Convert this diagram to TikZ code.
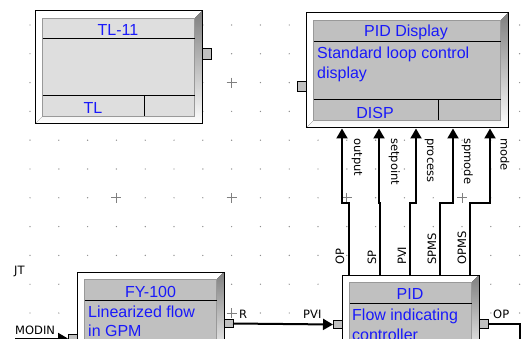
\documentclass[tikz,border=0pt]{standalone}
\usepackage{fontspec}
\setmainfont{Liberation Sans}
\newfontfamily\lblfont{DejaVu Sans}
\usetikzlibrary{arrows.meta,calc}
\definecolor{fbblue}{RGB}{25,25,250}
\definecolor{shade}{RGB}{128,128,128}
\definecolor{panel}{RGB}{192,192,192}
\definecolor{lpanel}{RGB}{222,222,222}
\definecolor{griddot}{RGB}{140,140,140}
\tikzset{
 outerbox/.style={draw=black, line width=1pt, fill=white, rectangle, inner sep=0pt, outer sep=0pt, anchor=north west},
 port/.style={draw=black, line width=0.8pt, fill=panel, rectangle, inner sep=0pt, outer sep=0pt, minimum width=9pt, minimum height=9pt},
 wire/.style={line width=2pt, black},
 arr/.style={-{Triangle[width=11pt,length=10pt]}},
 ttl/.style={text=fbblue, font=\fontsize{16}{20}\selectfont, inner sep=0pt, anchor=base},
 bodytxt/.style={text=fbblue, font=\fontsize{16}{20}\selectfont, inner sep=0pt, anchor=base west},
 lbl/.style={font=\lblfont\fontsize{11.5}{14}\selectfont, inner sep=0pt, anchor=base west},
 sep/.style={line width=1pt, black},
 innerp/.style={draw=gray!80, line width=0.6pt},
}
\newcommand\fbshade[4]{%
 \fill[shade] (#3,#2) -- (#3,#4) -- (#1,#4) -- ({#1+7.5},{#4-7.5}) -- ({#3-7.5},{#4-7.5}) -- ({#3-7.5},{#2+7.5}) -- cycle;
 \draw[line width=1pt] (#1,#2) rectangle (#3,#4);}
\begin{document}
\begin{tikzpicture}[x=1pt,y=-1pt]
\useasboundingbox (0,0) rectangle (527,339);
\clip (0,0) rectangle (527,339);
\fill[white] (0,0) rectangle (527,339);
% grid
\foreach \i in {0,...,17}{\foreach \j in {0,...,11}{\fill[griddot] ({30+28.8*\i},{25+28.8*\j}) circle (0.7);}}
\foreach \cx in {116.4,231.6,346.8,462}{\foreach \cy in {82.6,197.8,313}{
 \draw[gray, line width=0.8pt] ({\cx-5},\cy) -- ({\cx+5},\cy) (\cx,{\cy-5}) -- (\cx,{\cy+5});}}
% TL-11
\node[outerbox, minimum width=167pt, minimum height=113pt] (tl11) at (35,11) {};
\fbshade{35}{11}{202}{124}
\draw[innerp, fill=lpanel] (42.5,18.5) rectangle (194.5,116.5);
\draw[sep] (42.5,39) -- (194.5,39) (42.5,96) -- (194.5,96) (144,96) -- (144,116.5);
\node[ttl] (tl11t) at (118,35.5) {TL-11};
\node[ttl] (tl11b) at (93,114) {TL};
\node[port, minimum height=11pt] (tl11out) at (206.5,53.5) {};
% PID Display
\node[outerbox, minimum width=202pt, minimum height=115pt] (disp) at (306,13) {};
\fbshade{306}{13}{508}{128}
\draw[innerp, fill=panel] (313.5,20.5) rectangle (500.5,120.5);
\draw[sep] (313.5,42) -- (500.5,42) (313.5,100) -- (500.5,100) (438,100) -- (438,120.5);
\node[ttl] (dispt) at (406,37) {PID Display};
\node[bodytxt] (disp1) at (317,59) {Standard loop control};
\node[bodytxt] (disp2) at (317,79) {display};
\node[ttl] (dispb) at (375,118.5) {DISP};
\node[port, minimum height=10pt] (dispin) at (301.5,86) {};
% FY-100
\node[outerbox, minimum width=147pt, minimum height=90pt] (fy) at (77,272) {};
\fbshade{77}{272}{224}{362}
\draw[innerp, fill=panel] (84.5,279.5) rectangle (216.5,354.5);
\draw[sep] (84.5,300) -- (216.5,300);
\node[ttl] (fyt) at (150.5,297) {FY-100};
\node[bodytxt] (fy1) at (88,317.5) {Linearized flow};
\node[bodytxt] (fy2) at (88,336.5) {in GPM};
\node[port, minimum height=8pt] (fyout) at (228.5,323.5) {};
\node[port] (fyin) at (72.5,338.5) {};
% PID
\node[outerbox, minimum width=137pt, minimum height=90pt] (pid) at (342,275) {};
\fbshade{342}{275}{479}{365}
\draw[innerp, fill=panel] (349.5,282.5) rectangle (471.5,357.5);
\draw[sep] (349.5,303) -- (471.5,303);
\node[ttl] (pidt) at (410,299) {PID};
\node[bodytxt] (pid1) at (352,320) {Flow indicating};
\node[bodytxt] (pid2) at (352,340) {controller};
\node[port, minimum height=8pt] (pidin) at (337.5,324.5) {};
\node[port] (pidout) at (483.5,323.5) {};
% connectors PID -> display
\foreach \n/\px/\dx in {a/349/342, b/380/379, c/410/416, d/440/453, e/470/490}{
 \coordinate (p\n) at (\px,275);
 \coordinate (d\n) at (\dx,128.5);
 \draw[wire, arr] (p\n) -- (\px,203) -| (d\n);}
% FY -> PID
\draw[wire, arr] (fyout.east) -- (pidin.west);
% PID out
\coordinate (opcorner) at (520,323.5);
\coordinate (opend) at (520,350);
\draw[wire] (pidout.east) -- (opcorner) -- (opend);
% MODIN
\coordinate (modinstart) at (15,338.5);
\draw[wire, arr] (modinstart) -- (fyin.west);
% labels
\node[lbl] (ljt) at (14,274) {JT};
\node[lbl] (lmodin) at (15,334.5) {MODIN};
\node[lbl] (lr) at (239,318.5) {R};
\node[lbl] (lpvi) at (303,318.5) {PVI};
\node[lbl] (lop) at (493,318.5) {OP};
\node[lbl, rotate=90] (la) at (344,265) {OP};
\node[lbl, rotate=90] (lb) at (376,265) {SP};
\node[lbl, rotate=90] (lc) at (406,265) {PVI};
\node[lbl, rotate=90] (ld) at (436,265) {SPMS};
\node[lbl, rotate=90] (le) at (466,265) {OPMS};
\node[lbl, rotate=-90] (ua) at (354,138) {output};
\node[lbl, rotate=-90] (ub) at (391,138) {setpoint};
\node[lbl, rotate=-90] (uc) at (427,138) {process};
\node[lbl, rotate=-90] (ud) at (464,138) {spmode};
\node[lbl, rotate=-90] (ue) at (500.5,138) {mode};
\end{tikzpicture}
\end{document}
